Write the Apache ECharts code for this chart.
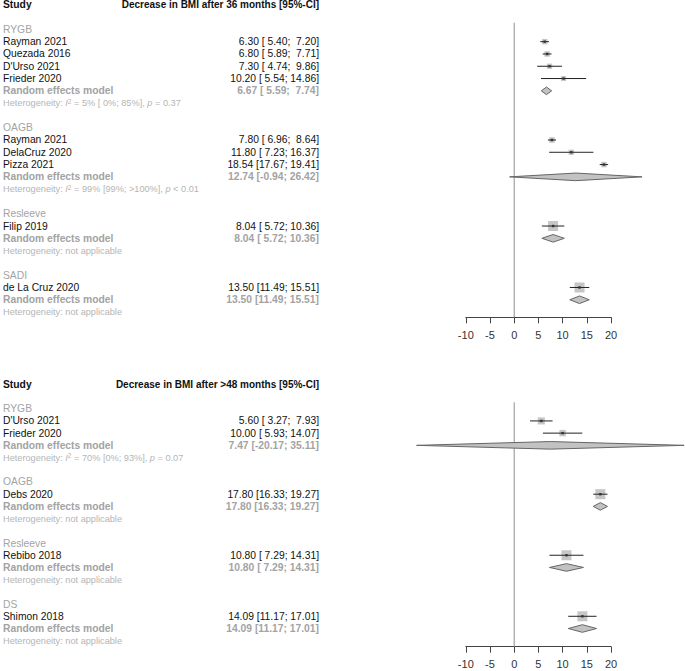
<!DOCTYPE html>
<html>
<head>
<meta charset="utf-8">
<script src="https://cdn.jsdelivr.net/npm/echarts@6/dist/echarts.min.js"></script>
<style>html,body{margin:0;padding:0;background:#fff;}#c{width:685px;height:671px;}</style>
</head>
<body>
<div id="c"></div>
<script>
// ---------- DATA: 36 months ----------
const topTitle = 'Decrease in BMI after 36 months [95%-CI]';
const topGroups = ['RYGB', 'OAGB', 'Resleeve', 'SADI'];
const topStudies = ['Rayman 2021', 'Quezada 2016', "D'Urso 2021", 'Frieder 2020', 'Rayman 2021', 'DelaCruz 2020', 'Pizza 2021', 'Filip 2019', 'de La Cruz 2020'];
const topStudyGroup = [0, 0, 0, 0, 1, 1, 1, 2, 3];
const topEst = [6.30, 6.80, 7.30, 10.20, 7.80, 11.80, 18.54, 8.04, 13.50];
const topLo = [5.40, 5.89, 4.74, 5.54, 6.96, 7.23, 17.67, 5.72, 11.49];
const topHi = [7.20, 7.71, 9.86, 14.86, 8.64, 16.37, 19.41, 10.36, 15.51];
const topWeight = [30, 30, 28, 25, 30, 28, 30, 100, 100];
const topReEst = [6.67, 12.74, 8.04, 13.50];
const topReLo = [5.59, -0.94, 5.72, 11.49];
const topReHi = [7.74, 26.42, 10.36, 15.51];
const topHetI2 = ['5%', '99%', null, null];
const topHetCI = ['[ 0%; 85%]', '[99%; >100%]', null, null];
const topHetP = ['= 0.37', '< 0.01', null, null];

// ---------- DATA: >48 months ----------
const botTitle = 'Decrease in BMI after >48 months [95%-CI]';
const botGroups = ['RYGB', 'OAGB', 'Resleeve', 'DS'];
const botStudies = ["D'Urso 2021", 'Frieder 2020', 'Debs 2020', 'Rebibo 2018', 'Shimon 2018'];
const botStudyGroup = [0, 0, 1, 2, 3];
const botEst = [5.60, 10.00, 17.80, 10.80, 14.09];
const botLo = [3.27, 5.93, 16.33, 7.29, 11.17];
const botHi = [7.93, 14.07, 19.27, 14.31, 17.01];
const botWeight = [50, 42, 100, 100, 100];
const botReEst = [7.47, 17.80, 10.80, 14.09];
const botReLo = [-20.17, 16.33, 7.29, 11.17];
const botReHi = [35.11, 19.27, 14.31, 17.01];
const botHetI2 = ['70%', null, null, null];
const botHetCI = ['[0%; 93%]', null, null, null];
const botHetP = ['= 0.07', null, null, null];

// axis ticks
const xTicks = [-10, -5, 0, 5, 10, 15, 20];

// ---------- styles ----------
const FONT = '"Liberation Sans", Arial, Helvetica, sans-serif';
const BLACK = '#111';
const GRAY = '#a3a3a3';
const LGRAY = '#b5b5b5';
const VAL_X = 319;
const NAME_X = 3;
const FS = 10.3;
const FS_TITLE = 10;
const FS_HET = 9.2;
const NB = '\u00A0';

function pad(s, w) { while (s.length < w) s = NB + s; return s; }
function nb(s) { return s.replace(/ /g, NB); }
function ciText(e, l, h) {
  return e.toFixed(2) + NB + '[' + pad(l.toFixed(2), 5) + ';' + NB + pad(h.toFixed(2), 5) + ']';
}

function buildPanel(groups, studies, sg, est, lo, hi, wt, reE, reL, reH, i2, ci, p, title) {
  const texts = [];
  const studyPts = [];
  const diamonds = [];
  texts.push({ row: 0, left: 'Study', right: title, kind: 'head' });
  let r = 2;
  groups.forEach((g, gi) => {
    texts.push({ row: r, left: g, right: '', kind: 'group' }); r++;
    studies.forEach((s, si) => {
      if (sg[si] !== gi) return;
      texts.push({ row: r, left: s, right: ciText(est[si], lo[si], hi[si]), kind: 'study' });
      studyPts.push([est[si], r, lo[si], hi[si], wt[si]]);
      r++;
    });
    texts.push({ row: r, left: 'Random effects model', right: ciText(reE[gi], reL[gi], reH[gi]), kind: 're' });
    diamonds.push([reE[gi], r, reL[gi], reH[gi]]);
    r++;
    let het;
    if (i2[gi]) {
      het = '{n|Heterogeneity: }{it|I}{sup|2}{n|' + nb(' = ' + i2[gi] + ' ' + ci[gi] + ', ') + '}{it|p}{n|' + nb(' ' + p[gi]) + '}';
    } else {
      het = '{n|Heterogeneity: not applicable}';
    }
    texts.push({ row: r, left: het, right: '', kind: 'het' });
    r++;
    r++;
  });
  return { texts, studyPts, diamonds };
}

const P1 = buildPanel(topGroups, topStudies, topStudyGroup, topEst, topLo, topHi, topWeight,
  topReEst, topReLo, topReHi, topHetI2, topHetCI, topHetP, topTitle);
const P2 = buildPanel(botGroups, botStudies, botStudyGroup, botEst, botLo, botHi, botWeight,
  botReEst, botReLo, botReHi, botHetI2, botHetCI, botHetP, botTitle);

// layout per panel: row0 pixel, row spacing, axis pixel, zero-line top pixel
const L1 = { y0: 4.8, dy: 12.29, axisY: 317.3, zeroTop: 22.7 };
const L2 = { y0: 384.3, dy: 12.21, axisY: 646.7, zeroTop: 402.3 };
const GRID_LEFT = 465.8, GRID_RIGHT = 74;

function rowMax(L) { return (L.axisY - L.y0) / L.dy; }

function textStyleFor(kind) {
  switch (kind) {
    case 'head': return { fontWeight: 'bold', fill: BLACK, fontSize: FS };
    case 'group': return { fontWeight: 'normal', fill: GRAY, fontSize: FS };
    case 'study': return { fontWeight: 'normal', fill: BLACK, fontSize: FS };
    case 're': return { fontWeight: 'bold', fill: GRAY, fontSize: FS };
    default: return { fontWeight: 'normal', fill: LGRAY, fontSize: FS_HET };
  }
}

function textSeries(P, idx) {
  return {
    type: 'custom', xAxisIndex: idx, yAxisIndex: idx, silent: true, clip: false,
    data: P.texts.map(t => [0, t.row]),
    renderItem: function (params, api) {
      const t = P.texts[params.dataIndex];
      const y = api.coord([0, t.row])[1];
      const st = textStyleFor(t.kind);
      const children = [];
      if (t.kind === 'het') {
        children.push({
          type: 'text', x: NAME_X, y: y,
          style: {
            text: t.left, x: 0, y: 0, verticalAlign: 'middle', align: 'left',
            fontFamily: FONT,
            rich: {
              n: { fontSize: FS_HET, fill: LGRAY, fontFamily: FONT, lineHeight: 11 },
              it: { fontSize: FS_HET, fill: LGRAY, fontStyle: 'italic', fontFamily: FONT, lineHeight: 11 },
              sup: { fontSize: 6.5, fill: LGRAY, fontFamily: FONT, verticalAlign: 'top', lineHeight: 11, padding: [0, 0, 4, 0] }
            }
          }
        });
      } else {
        children.push({
          type: 'text', x: NAME_X, y: y,
          style: { text: t.left, fontFamily: FONT, fontSize: st.fontSize, fontWeight: st.fontWeight, fill: st.fill, verticalAlign: 'middle', align: 'left' }
        });
        if (t.right) {
          children.push({
            type: 'text', x: VAL_X, y: y,
            style: { text: t.right, fontFamily: FONT, fontSize: t.kind === 'head' ? FS_TITLE : st.fontSize, fontWeight: st.fontWeight, fill: st.fill, verticalAlign: 'middle', align: 'right' }
          });
        }
      }
      return { type: 'group', children: children };
    }
  };
}

function studySeries(P, idx) {
  return {
    type: 'custom', xAxisIndex: idx, yAxisIndex: idx, silent: true, clip: false,
    data: P.studyPts,
    renderItem: function (params, api) {
      const e = api.value(0), r = api.value(1), l = api.value(2), h = api.value(3), w = api.value(4);
      const c = api.coord([e, r]);
      const pl = api.coord([l, r]);
      const ph = api.coord([h, r]);
      const s = Math.sqrt(w);
      return {
        type: 'group', children: [
          { type: 'rect', shape: { x: c[0] - s / 2, y: c[1] - s / 2, width: s, height: s }, style: { fill: '#c6c6c6' } },
          { type: 'line', shape: { x1: pl[0], y1: c[1], x2: ph[0], y2: c[1] }, style: { stroke: '#222', lineWidth: 1 } },
          { type: 'rect', shape: { x: c[0] - 1.2, y: c[1] - 1.2, width: 2.4, height: 2.4 }, style: { fill: '#333' } }
        ]
      };
    }
  };
}

function diamondSeries(P, idx) {
  return {
    type: 'custom', xAxisIndex: idx, yAxisIndex: idx, silent: true, clip: false,
    data: P.diamonds,
    renderItem: function (params, api) {
      const e = api.value(0), r = api.value(1), l = api.value(2), h = api.value(3);
      const c = api.coord([e, r]);
      const pl = api.coord([l, r]);
      const ph = api.coord([h, r]);
      const hh = 3.8;
      return {
        type: 'polygon',
        shape: { points: [[pl[0], c[1]], [c[0], c[1] - hh], [ph[0], c[1]], [c[0], c[1] + hh]] },
        style: { fill: '#c2c2c2', stroke: '#666', lineWidth: 1 }
      };
    }
  };
}

function zeroSeries(L, idx) {
  return {
    type: 'line', xAxisIndex: idx, yAxisIndex: idx, silent: true, symbol: 'none',
    data: [[0, (L.zeroTop - L.y0) / L.dy], [0, rowMax(L)]],
    lineStyle: { color: '#8e8e8e', width: 1 }, z: 1
  };
}

function xAxisFor(idx) {
  return {
    type: 'value', gridIndex: idx, min: xTicks[0], max: xTicks[xTicks.length - 1], interval: 5,
    axisLine: { show: true, onZero: false, lineStyle: { color: '#444', width: 1 } },
    axisTick: { show: true, length: 6, lineStyle: { color: '#444', width: 1 } },
    axisLabel: { show: true, margin: 12, fontSize: 11, color: '#333', fontFamily: FONT,
      formatter: v => (xTicks.indexOf(v) >= 0 ? String(v) : '') },
    splitLine: { show: false }
  };
}
function yAxisFor(idx, L) {
  return { type: 'value', gridIndex: idx, inverse: true, min: 0, max: rowMax(L), show: false, splitLine: { show: false } };
}

const chart = echarts.init(document.getElementById('c'), null, { renderer: 'svg' });
chart.setOption({
  animation: false,
  backgroundColor: '#fff',
  grid: [
    { left: GRID_LEFT, right: GRID_RIGHT, top: L1.y0, height: L1.axisY - L1.y0 },
    { left: GRID_LEFT, right: GRID_RIGHT, top: L2.y0, height: L2.axisY - L2.y0 }
  ],
  xAxis: [xAxisFor(0), xAxisFor(1)],
  yAxis: [yAxisFor(0, L1), yAxisFor(1, L2)],
  series: [
    zeroSeries(L1, 0), zeroSeries(L2, 1),
    diamondSeries(P1, 0), diamondSeries(P2, 1),
    studySeries(P1, 0), studySeries(P2, 1),
    textSeries(P1, 0), textSeries(P2, 1)
  ]
});
</script>
</body>
</html>
